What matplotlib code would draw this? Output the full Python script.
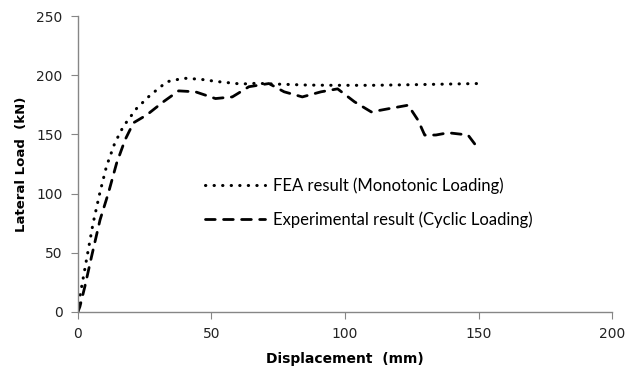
import matplotlib.pyplot as plt

# FEA (monotonic) curve
fea_x = [0, 0.75, 3.2, 5.7, 8.2, 10.7, 13.8, 17, 22, 27, 33.3, 39.6, 45.9, 52, 61, 67,
         73.4, 86, 96, 110, 125, 140, 150]
fea_y = [0, 12.9, 43.8, 75, 100.4, 123, 142.6, 156.7, 172, 183, 194.5, 197.5, 196.6, 194.7,
         192.6, 193.2, 192.6, 191.7, 191.5, 191.5, 192, 192.6, 193]

# Experimental (cyclic) curve
exp_x = [0, 0.75, 2.6, 5.1, 8.3, 11.4, 14.5, 17.7, 20.8, 25.8, 32, 37.7, 44, 51.5, 57.8,
         64, 71.5, 77.2, 84, 91, 97.2, 103.5, 109.8, 116.7, 123.6, 127.3, 129.8, 134,
         138.6, 146, 150]
exp_y = [0, 4.4, 21.3, 46.6, 77.8, 100.3, 125.7, 145.6, 159.8, 166.5, 177.6, 186.8, 186,
         180.3, 181.7, 190.3, 193, 186, 181.7, 186, 188.5, 177.6, 169, 171.9, 174.7, 162,
         149.4, 149.5, 151.4, 149.5, 137.5]

fig = plt.figure(figsize=(6.28, 3.74), dpi=100)
ax = fig.add_axes([0.124, 0.166, 0.851, 0.791])

ax.plot(fea_x, fea_y, color='black', lw=2.2, linestyle=(0, (0.1, 2.7)),
        dash_capstyle='round', label='FEA result (Monotonic Loading)')
ax.plot(exp_x, exp_y, color='black', lw=2.0, linestyle=(0, (3.5, 3.0)),
        dash_capstyle='round', label='Experimental result (Cyclic Loading)')

ax.set_xlim(0, 200)
ax.set_ylim(0, 250)
ax.set_xticks([0, 50, 100, 150, 200])
ax.set_yticks([0, 50, 100, 150, 200, 250])

for s in ['top', 'right']:
    ax.spines[s].set_visible(False)
for s in ['left', 'bottom']:
    ax.spines[s].set_color('#868686')
    ax.spines[s].set_linewidth(1.0)
ax.tick_params(direction='out', length=5, color='#868686', labelsize=10,
               labelcolor='#222222', pad=6)

ax.set_xlabel('Displacement  (mm)', fontsize=10, fontweight='bold', labelpad=8)
ax.set_ylabel('Lateral Load  (kN)', fontsize=9.5, fontweight='bold', labelpad=6)

leg = ax.legend(loc='upper left', bbox_to_anchor=(0.21, 0.505), frameon=False,
                handlelength=3.6, handletextpad=0.45, labelspacing=1.05,
                prop={'family': 'Lato', 'size': 12})

fig.savefig('out.png', dpi=100)
